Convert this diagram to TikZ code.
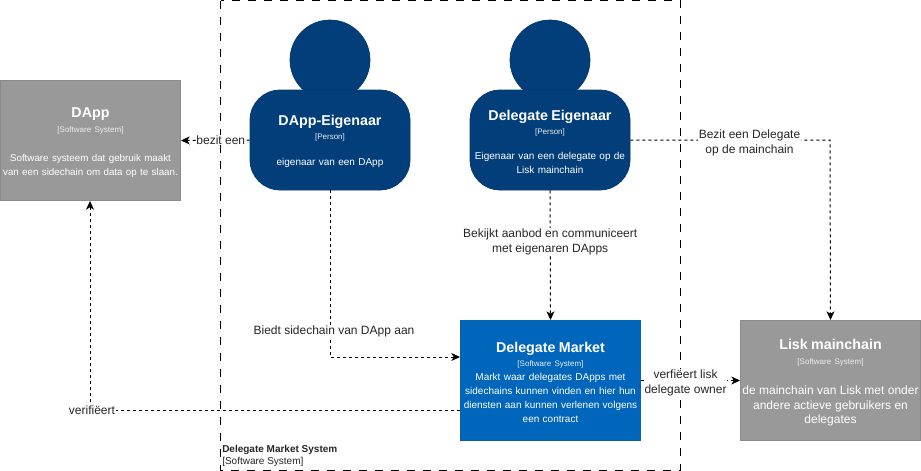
\documentclass[tikz,border=0pt]{standalone}
\usepackage{fontspec}
\setmainfont{Liberation Sans}
\usetikzlibrary{arrows.meta,calc}
\definecolor{persona}{HTML}{023F7A}
\definecolor{personb}{HTML}{03396C}
\definecolor{sysblue}{HTML}{0066BB}
\definecolor{sysblueb}{HTML}{0A62AE}
\definecolor{sysgray}{HTML}{999999}
\definecolor{sysgrayb}{HTML}{8A8A8A}
\definecolor{subtle}{HTML}{EDEDED}
\newcommand{\ttl}[1]{{\fontsize{10.7}{13.5}\selectfont\bfseries\rule{0pt}{10.5pt}#1}}
\newcommand{\sbt}[1]{{\fontsize{6}{9}\selectfont\textcolor{subtle}{#1}}}
\tikzset{
  x=0.75pt,y=-0.75pt,
  sysbox/.style={draw,line width=0.75pt,minimum width=135pt,minimum height=90pt,inner sep=0pt,text=white,align=center,text width=134pt,font=\fontsize{7.5}{10.5}\selectfont},
  graysys/.style={sysbox,fill=sysgray,draw=sysgrayb},
  bluesys/.style={sysbox,fill=sysblue,draw=sysblueb},
  body/.style={draw=personb,fill=persona,line width=0.5pt,rounded corners=22.5pt,minimum width=120pt,minimum height=75pt,inner sep=0pt,text=white,align=center,text width=118pt,font=\fontsize{7.5}{10.5}\selectfont},
  head/.style={circle,draw=personb,fill=persona,line width=0.5pt,minimum size=60pt,inner sep=0pt},
  link/.style={draw=black,line width=0.75pt,dash pattern=on 2.25pt off 2.25pt,-{Stealth[length=6.5pt,width=6pt,inset=1.8pt]}},
  linklabel/.style={fill=white,inner sep=0.6pt,align=center,text=black!85,font=\fontsize{9}{11.2}\selectfont},
  frame/.style={draw=black,line width=0.75pt,dash pattern=on 6pt off 6pt},
  capt/.style={anchor=north west,inner sep=0pt,align=left,text=black!85,font=\fontsize{7.5}{9}\selectfont}
}
\begin{document}
\begin{tikzpicture}
\useasboundingbox (0,0) rectangle (921,471);
\path[frame] (220.5,0.5) rectangle (680.5,470);
\node[capt] (cap) at (222,445) {\textbf{Delegate Market System}\\{}[Software System]};

\node[head] (h1) at (330,60) {};
\node[head] (h2) at (550,60) {};
\node[body] (own) at (330,140) {\ttl{DApp-Eigenaar}\\[0pt]\sbt{[Person]}\\[9pt]eigenaar van een DApp\\[2pt]};
\node[body] (del) at (550,140) {\ttl{Delegate Eigenaar}\\[0pt]\sbt{[Person]}\\[8pt]Eigenaar van een delegate op de\\Lisk mainchain};
\node[graysys] (dapp) at (90.5,140.5) {\ttl{DApp}\\[1pt]\sbt{[Software System]}\\[11pt]{\fontsize{7.35}{11}\selectfont Software systeem dat gebruik maakt\\van een sidechain om data op te slaan.}};
\node[bluesys] (mk) at (550.5,380.5) {\ttl{Delegate Market}\\[0pt]\sbt{[Software System]}\\[0pt]Markt waar delegates DApps met\\sidechains kunnen vinden en hier hun\\diensten aan kunnen verlenen volgens\\een contract};
\node[graysys] (lisk) at (830.5,380.5) {\ttl{Lisk mainchain}\\[0.5pt]\sbt{[Software System]}\\[12.5pt]{\fontsize{9}{10.6}\selectfont de mainchain van Lisk met onder\\andere actieve gebruikers en\\delegates}\\[-2pt]};

\coordinate (c1) at (330,357);
\coordinate (c2) at (830,140);
\coordinate (c3) at (90,410);

\draw[link] (own.west) -- (dapp.east) node[linklabel,pos=0.42] (l1) {bezit een};
\draw[link] (own.south) -- (c1) -- ($(mk.west)+(0,-23.5)$);
\node[linklabel] (l2) at (334,331) {Biedt sidechain van DApp aan};
\draw[link] (del.south) -- (mk.north) node[linklabel,pos=0.4] (l3) {Bekijkt aanbod en communiceert\\met eigenaren DApps};
\draw[link] (del.east) -- (c2) -- (lisk.north);
\node[linklabel] (l4) at (749.5,142.5) {Bezit een Delegate\\op de mainchain};
\draw[link] ($(mk.west)+(0,29.5)$) -- (c3) -- (c3 |- dapp.south);
\node[linklabel] (l5) at (92,410) {verifiëert};
\draw[link] (mk.east) -- (lisk.west) node[linklabel,pos=0.45,yshift=-1.5pt] (l6) {verfiëert lisk\\delegate owner};
\end{tikzpicture}
\end{document}
